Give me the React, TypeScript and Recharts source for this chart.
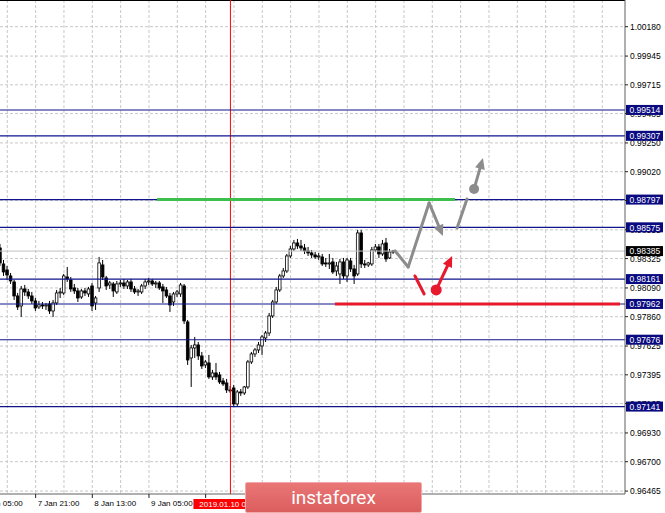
import React from "react";
import {
  Bar,
  CartesianGrid,
  ComposedChart,
  ReferenceDot,
  ReferenceLine,
  XAxis,
  YAxis,
} from "recharts";

// H1 candles, hour index counted from 2019-01-07 00:00
const firstHour = 11;
const opens = [
  0.9841, 0.98282, 0.98234, 0.98186, 0.98138, 0.98026, 0.97946, 0.98082,
  0.98058, 0.98026, 0.97986, 0.97938, 0.97954, 0.97946, 0.97962, 0.97906,
  0.9797, 0.9805, 0.9805, 0.98178, 0.98154, 0.9809, 0.98066, 0.98018,
  0.98066, 0.98042, 0.98106, 0.9797, 0.9809, 0.98274, 0.9817, 0.98114,
  0.98122, 0.98058, 0.98122, 0.9813, 0.98106, 0.98138, 0.98082, 0.98058,
  0.98058, 0.98106, 0.98138, 0.98146, 0.98122, 0.9813, 0.98098, 0.98074,
  0.98026, 0.97978, 0.98042, 0.98042, 0.98106, 0.97818, 0.9753, 0.9761,
  0.97634, 0.97546, 0.97474, 0.9749, 0.97378, 0.9741, 0.97394, 0.97346,
  0.9733, 0.97274, 0.9729, 0.97162, 0.97258, 0.9725, 0.97298, 0.97498,
  0.97562, 0.97594, 0.97626, 0.9769, 0.9773, 0.97866, 0.97978, 0.98074,
  0.98186, 0.98226, 0.98346, 0.98402, 0.9845, 0.98426, 0.9841, 0.98386,
  0.9837, 0.98354, 0.98338, 0.98338, 0.9829, 0.98282, 0.98298, 0.98226,
  0.98202, 0.98298, 0.98186, 0.98306, 0.98242, 0.98202, 0.9853, 0.98282,
  0.98274, 0.98282, 0.98394, 0.98418, 0.98362, 0.9845, 0.9833, 0.98378,
];
const highs = [
  0.98442, 0.98314, 0.98266, 0.9821, 0.98154, 0.9805, 0.98106, 0.98114,
  0.98082, 0.98058, 0.9801, 0.97986, 0.97978, 0.9797, 0.97986, 0.97994,
  0.98074, 0.9809, 0.98202, 0.98258, 0.98178, 0.98122, 0.9809, 0.98082,
  0.9809, 0.98098, 0.9813, 0.98026, 0.98338, 0.98314, 0.98186, 0.98146,
  0.98138, 0.98146, 0.98154, 0.98162, 0.98154, 0.98162, 0.98106, 0.98082,
  0.98122, 0.98162, 0.9817, 0.98162, 0.98146, 0.98146, 0.98122, 0.98098,
  0.9805, 0.98058, 0.98074, 0.9813, 0.98122, 0.97834, 0.97634, 0.97698,
  0.97658, 0.97578, 0.97514, 0.97554, 0.97434, 0.9749, 0.97418, 0.9737,
  0.97362, 0.97306, 0.97314, 0.97274, 0.97282, 0.97306, 0.97514, 0.97578,
  0.9761, 0.97658, 0.97714, 0.97746, 0.9789, 0.97994, 0.98098, 0.98202,
  0.9825, 0.98362, 0.98426, 0.98474, 0.98482, 0.98474, 0.98442, 0.98418,
  0.98394, 0.98378, 0.9837, 0.98362, 0.9833, 0.98362, 0.9833, 0.98298,
  0.98322, 0.9833, 0.9833, 0.9833, 0.98274, 0.98554, 0.98554, 0.98314,
  0.98298, 0.98418, 0.98442, 0.98442, 0.98474, 0.9849, 0.98402, 0.98394,
];
const lows = [
  0.98266, 0.98186, 0.98154, 0.98122, 0.97994, 0.97914, 0.97858, 0.98026,
  0.98002, 0.97962, 0.97906, 0.97922, 0.97922, 0.97914, 0.97882, 0.97858,
  0.97954, 0.9801, 0.98034, 0.98138, 0.98058, 0.98042, 0.97978, 0.98002,
  0.98026, 0.98018, 0.97906, 0.97914, 0.98058, 0.98154, 0.98074, 0.98082,
  0.98018, 0.98042, 0.98098, 0.98082, 0.98082, 0.98058, 0.98042, 0.98026,
  0.98042, 0.98082, 0.98114, 0.98106, 0.9809, 0.98074, 0.9797, 0.9801,
  0.97898, 0.97946, 0.98018, 0.98018, 0.97802, 0.97474, 0.97298, 0.9753,
  0.97514, 0.97442, 0.9745, 0.97362, 0.97354, 0.97354, 0.97322, 0.97306,
  0.9725, 0.9725, 0.97146, 0.97146, 0.97226, 0.97234, 0.97282, 0.97482,
  0.97538, 0.9757, 0.97554, 0.97658, 0.97706, 0.9785, 0.97962, 0.98058,
  0.9817, 0.9821, 0.9833, 0.98386, 0.98402, 0.98386, 0.98362, 0.98346,
  0.9833, 0.98322, 0.98314, 0.98266, 0.98258, 0.98242, 0.98202, 0.98186,
  0.98122, 0.98162, 0.98138, 0.98218, 0.98122, 0.98186, 0.9825, 0.9825,
  0.98258, 0.98266, 0.98378, 0.9833, 0.98346, 0.98298, 0.98322, 0.98362,
];
const closes = [
  0.9829, 0.98218, 0.98194, 0.98146, 0.98026, 0.97938, 0.98082, 0.98058,
  0.98026, 0.97986, 0.9793, 0.97954, 0.97946, 0.97954, 0.97906, 0.9797,
  0.9805, 0.98058, 0.98186, 0.98162, 0.98082, 0.98066, 0.9801, 0.98066,
  0.9805, 0.98082, 0.97946, 0.9801, 0.9829, 0.98178, 0.98106, 0.9813,
  0.98066, 0.98122, 0.9813, 0.98106, 0.98138, 0.98082, 0.98058, 0.98066,
  0.98106, 0.98138, 0.98146, 0.98122, 0.9813, 0.9809, 0.98066, 0.98026,
  0.97954, 0.98042, 0.98058, 0.98114, 0.97826, 0.97514, 0.9761, 0.97634,
  0.97546, 0.97466, 0.97498, 0.97378, 0.9741, 0.97378, 0.97338, 0.97322,
  0.97274, 0.97266, 0.97162, 0.97258, 0.9725, 0.97298, 0.97498, 0.97562,
  0.97594, 0.97634, 0.97698, 0.9773, 0.97866, 0.97978, 0.98074, 0.98186,
  0.98226, 0.98346, 0.98402, 0.9845, 0.98426, 0.9841, 0.98386, 0.9837,
  0.98354, 0.98338, 0.98346, 0.98282, 0.98282, 0.9829, 0.98218, 0.98266,
  0.98298, 0.98186, 0.98314, 0.98242, 0.98186, 0.9853, 0.98282, 0.98274,
  0.9829, 0.98394, 0.98418, 0.98362, 0.98442, 0.98322, 0.98378, 0.98386,
];

const priceTicks = [
  1.0018, 0.99945, 0.99715, 0.99485, 0.9925, 0.9902, 0.9879, 0.98555, 0.98325,
  0.9809, 0.9786, 0.97625, 0.97395, 0.97165, 0.9693, 0.967, 0.96465,
];
// labelled time ticks; the one under the marker tag keeps only its tick mark
const timeTicks = [5, 21, 37, 53, 69];
const timeLabels = ["7 Jan 05:00", "7 Jan 21:00", "8 Jan 13:00", "9 Jan 05:00", ""];
const gridHours = [
  13, 21, 29, 37, 45, 53, 61, 69, 77, 85, 93, 101, 109, 117, 125, 133, 141,
  149, 157, 165, 173, 181,
];

// horizontal levels drawn across the whole chart
const levels = [0.99514, 0.99307, 0.98797, 0.98575, 0.98161, 0.97962, 0.97676, 0.97141];
const lastPrice = 0.98385;
const markerHour = 76;
const markerLabel = "2019.01.10 04:00";

// resistance (green) and support (red) zones
const greenZone = { from: 55.3, to: 139.4, price: 0.98797 };
const redZone = { from: 105.5, to: 186, price: 0.97962 };

// forecast paths: hours and prices
const greyPathHours = [122.5, 126.2, 132.1, 136.0];
const greyPathPrices = [0.98386, 0.98258, 0.9877, 0.98506];
const greyUpHours = [140.0, 142.8];
const greyUpPrices = [0.9857, 0.98802];
const greyDot = { hour: 144.8, price: 0.98882 };
const greyArrowTip = { hour: 147.3, price: 0.9913 };
const redStrokeHours = [128.1, 130.7];
const redStrokePrices = [0.98186, 0.98042];
const redDot = { hour: 134.1, price: 0.98074 };
const redArrowTip = { hour: 138.6, price: 0.98346 };

const candles = opens.map((o, i) => ({
  t: firstHour + i,
  open: o,
  high: highs[i],
  low: lows[i],
  close: closes[i],
  range: [lows[i], highs[i]],
}));

const FONT = "'Liberation Sans', Arial, sans-serif";
const NAVY = "#10158c";
const GREY = "#8c8c8c";
const RED = "#e8192c";

function Candle(props: any) {
  const { x, y, width, height, payload } = props;
  if (!payload) return null;
  const top = height < 0 ? y + height : y;
  const h = Math.abs(height);
  const { open, close, high, low } = payload;
  const k = high - low > 0 ? h / (high - low) : 0;
  const yO = top + (high - open) * k;
  const yC = top + (high - close) * k;
  const cx = x + width / 2;
  const bTop = Math.min(yO, yC);
  const bH = Math.max(Math.abs(yO - yC), 0.8);
  const bear = close < open;
  return (
    <g>
      <line x1={cx} x2={cx} y1={top} y2={top + h} stroke="#000" strokeWidth={1} />
      <rect
        x={cx - 1.3}
        y={bTop}
        width={2.6}
        height={bH}
        fill={bear ? "#000" : "#fff"}
        stroke="#000"
        strokeWidth={0.8}
      />
    </g>
  );
}

const arrowShape = (color: string, head: boolean) => (p: any) => {
  const { x1, y1, x2, y2 } = p;
  const dx = x2 - x1;
  const dy = y2 - y1;
  const len = Math.hypot(dx, dy) || 1;
  const ux = dx / len;
  const uy = dy / len;
  const hl = head ? 11 : 0;
  const hw = 5;
  const bx = x2 - ux * hl;
  const by = y2 - uy * hl;
  return (
    <g>
      <line
        x1={x1}
        y1={y1}
        x2={head ? bx + ux : x2}
        y2={head ? by + uy : y2}
        stroke={color}
        strokeWidth={3}
        strokeLinecap="round"
      />
      {head && (
        <polygon
          points={`${x2},${y2} ${bx - uy * hw},${by + ux * hw} ${bx + uy * hw},${by - ux * hw}`}
          fill={color}
        />
      )}
    </g>
  );
};

// price scale text, drawn as reference labels so the level tags can sit above it
const scaleText = (text: string) => (props: any) => {
  const { viewBox } = props;
  if (!viewBox) return null;
  return (
    <text
      x={viewBox.x + viewBox.width + 5}
      y={viewBox.y + 3}
      fontSize={8.5}
      fontFamily={FONT}
      fill="#000"
    >
      {text}
    </text>
  );
};

const priceTag = (text: string, bg: string) => (props: any) => {
  const { viewBox } = props;
  if (!viewBox) return null;
  const x = viewBox.x + viewBox.width + 1;
  const y = viewBox.y;
  return (
    <g>
      <rect x={x} y={y - 5} width={37} height={10} fill={bg} />
      <text x={x + 3.5} y={y + 3.3} fill="#fff" fontSize={8.5} fontFamily={FONT}>
        {text}
      </text>
    </g>
  );
};

const timeTag = (props: any) => {
  const { viewBox } = props;
  if (!viewBox) return null;
  const cx = viewBox.x;
  const y = viewBox.y + viewBox.height;
  return (
    <g>
      <rect x={cx - 37} y={y + 5} width={74} height={10} fill="#ff0000" />
      <text
        x={cx}
        y={y + 13}
        fill="#fff"
        fontSize={8}
        fontFamily={FONT}
        textAnchor="middle"
      >
        {markerLabel}
      </text>
    </g>
  );
};

function TimeTick(props: any) {
  const { x, y, payload } = props;
  const idx = timeTicks.indexOf(payload.value);
  return (
    <text x={x + 2} y={y + 8} fontSize={8} fontFamily={FONT} fill="#000">
      {idx >= 0 ? timeLabels[idx] : ""}
    </text>
  );
}

const NoTick = () => <g />;

const segs = (hours: number[], prices: number[]) =>
  hours.slice(1).map((h, i) => [
    { x: hours[i], y: prices[i] },
    { x: h, y: prices[i + 1] },
  ]);

export default function App() {
  const yDomain: [number, number] = [0.964416, 1.003936];
  const xDomain: [number, number] = [10.939, 187.41];
  const greySegs = segs(greyPathHours, greyPathPrices);
  return (
    <div
      style={{
        position: "absolute",
        left: 0,
        top: 0,
        width: 665,
        height: 513,
        background: "#fff",
        overflow: "hidden",
      }}
    >
      <ComposedChart
        width={665}
        height={513}
        data={candles}
        margin={{ top: 0, right: 0, bottom: 0, left: 0 }}
      >
        <CartesianGrid
          stroke="#c8c8c8"
          strokeDasharray="3 2"
          verticalValues={gridHours}
          horizontalValues={priceTicks}
        />
        <XAxis
          dataKey="t"
          type="number"
          domain={xDomain}
          allowDataOverflow
          ticks={timeTicks}
          interval={0}
          height={19}
          tick={<TimeTick />}
          tickSize={4}
          tickMargin={0}
          stroke="#606060"
          tickLine={{ stroke: "#202020" }}
        />
        <YAxis
          orientation="right"
          type="number"
          domain={yDomain}
          allowDataOverflow
          ticks={priceTicks}
          interval={0}
          width={40}
          tickSize={3}
          tickMargin={2}
          tick={<NoTick />}
          stroke="#606060"
          tickLine={{ stroke: "#202020" }}
        />
        <ReferenceLine y={yDomain[1]} stroke="#000" strokeWidth={2} ifOverflow="visible" />
        {priceTicks.map((v) => (
          <ReferenceLine
            key={"s" + v}
            y={v}
            strokeOpacity={0}
            label={scaleText(v.toFixed(5))}
          />
        ))}
        <ReferenceLine
          x={markerHour}
          stroke="#ff0000"
          strokeWidth={1}
          label={timeTag}
        />
        <ReferenceLine
          y={lastPrice}
          stroke="#c0c0c0"
          strokeWidth={1}
          label={priceTag(lastPrice.toFixed(5), "#000")}
        />
        {levels.map((v) => (
          <ReferenceLine
            key={v}
            y={v}
            stroke={NAVY}
            strokeWidth={1.1}
            label={priceTag(v.toFixed(5), "#0a0a80")}
          />
        ))}
        <ReferenceLine
          segment={[
            { x: greenZone.from, y: greenZone.price },
            { x: greenZone.to, y: greenZone.price },
          ]}
          stroke="#3cbf4c"
          strokeWidth={3}
        />
        <ReferenceLine
          segment={[
            { x: redZone.from, y: redZone.price },
            { x: redZone.to, y: redZone.price },
          ]}
          stroke={RED}
          strokeWidth={3}
        />
        <Bar
          dataKey="range"
          barSize={3}
          shape={<Candle />}
          isAnimationActive={false}
        />
        {greySegs.map((s, i) => (
          <ReferenceLine
            key={"g" + i}
            segment={s}
            shape={arrowShape(GREY, i === greySegs.length - 1)}
          />
        ))}
        <ReferenceLine
          segment={segs(greyUpHours, greyUpPrices)[0]}
          shape={arrowShape(GREY, false)}
        />
        <ReferenceLine
          segment={[
            { x: greyDot.hour, y: greyDot.price },
            { x: greyArrowTip.hour, y: greyArrowTip.price },
          ]}
          shape={arrowShape(GREY, true)}
        />
        <ReferenceDot x={greyDot.hour} y={greyDot.price} r={5} fill={GREY} stroke="none" />
        <ReferenceLine
          segment={segs(redStrokeHours, redStrokePrices)[0]}
          shape={arrowShape(RED, false)}
        />
        <ReferenceLine
          segment={[
            { x: redDot.hour, y: redDot.price },
            { x: redArrowTip.hour, y: redArrowTip.price },
          ]}
          shape={arrowShape(RED, true)}
        />
        <ReferenceDot x={redDot.hour} y={redDot.price} r={5.5} fill={RED} stroke="none" />
      </ComposedChart>
      <div
        style={{
          position: "absolute",
          left: 245,
          top: 482,
          width: 177,
          height: 31,
          background: "linear-gradient(#e97676, #dc5e5e)",
          border: "1px solid #f0a8a8",
          boxSizing: "border-box",
          borderRadius: 2,
          color: "#fff",
          fontFamily: "Roboto, 'Open Sans', sans-serif",
          fontSize: 19,
          lineHeight: "29px",
          textAlign: "center",
        }}
      >
        instaforex
      </div>
    </div>
  );
}
